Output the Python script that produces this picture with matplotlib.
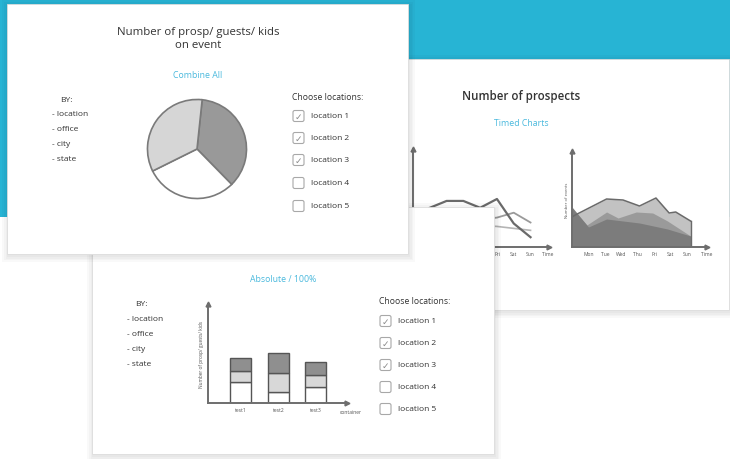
import matplotlib
matplotlib.use("Agg")
import matplotlib.pyplot as plt
from matplotlib.patches import Rectangle, FancyBboxPatch

plt.rcParams['font.family'] = ['Open Sans', 'DejaVu Sans']

pie_values = [36, 30, 34]            # dark, white, light slices
by_items = ['location', 'office', 'city', 'state']
locations = ['location 1', 'location 2', 'location 3', 'location 4', 'location 5']
checked = [True, True, True, False, False]

days = ['Mon', 'Tue', 'Wed', 'Thu', 'Fri', 'Sat', 'Sun']
day_pos = [1, 2, 3, 4, 5, 6, 7]
line_top = [40, 47, 47, 40, 49, 24, 10]
line_mid = [32, 36, 30, 28, 30, 35, 25]
line_low = [22, 20, 24, 22, 21, 19, 17]

area_light_x = [0, 0.2, 2.1, 3.1, 4.1, 5.1, 5.9, 6.3, 7.2]
area_light_y = [30, 32, 48, 47, 41, 49, 34, 35, 26]
area_mid_x = [0, 0.9, 2.1, 2.8, 3.9, 4.9, 5.8, 7.2]
area_mid_y = [38, 22, 35, 29, 35, 34, 26, 11]
area_dark_x = [0, 1.0, 2.1, 4.1, 5.8, 7.2]
area_dark_y = [40, 20, 28, 24, 18, 11]

bar_tests = ['test1', 'test2', 'test3']
bar_white = [21, 11, 16]
bar_light = [11, 19, 12]
bar_dark = [13, 20, 13]

W, H = 730, 460
CYAN = '#27b4d4'
CYAN_TXT = '#4ab9dd'
TXT = '#333333'
AX = '#6e6e6e'

fig = plt.figure(figsize=(7.3, 4.6), dpi=100)

def px_axes(x, y, w, h, z):
    return fig.add_axes([x / W, 1 - (y + h) / H, w / W, h / H], zorder=z)

def panel(x, y, w, h, z):
    ax = px_axes(x, y, w, h, z)
    ax.set_xlim(x, x + w)
    ax.set_ylim(y + h, y)
    ax.axis('off')
    for d in [6, 4, 2.5, 1.2]:
        ax.add_patch(Rectangle((x - d + 1, y - d + 2), w + 2 * d, h + 2 * d,
                               fc='black', alpha=0.025, lw=0, clip_on=False))
    ax.add_patch(Rectangle((x, y), w, h, fc='white', ec='#dcdcdc', lw=0.6, clip_on=False))
    return ax

def checklist(ax, x, y_title, y_rows):
    ax.text(x, y_title, 'Choose locations:', fontsize=6.2, color=TXT, va='center')
    for name, on, yc in zip(locations, checked, y_rows):
        ax.add_patch(FancyBboxPatch((x + 1, yc - 5.5), 11, 11,
                                    boxstyle='round,pad=0,rounding_size=1.8',
                                    fc='white', ec='#a8a8a8', lw=0.8))
        if on:
            ax.text(x + 6.5, yc + 0.5, '\u2713', fontsize=6.5, color='#8a8a8a',
                    ha='center', va='center', family='DejaVu Sans')
        ax.text(x + 19, yc, name, fontsize=6, color=TXT, va='center')

def by_list(ax, x, y0):
    ax.text(x + 8, y0, 'BY:', fontsize=6, color=TXT, va='center')
    for i, item in enumerate(by_items):
        ax.text(x, y0 + 15 * (i + 1), '- ' + item, fontsize=6, color=TXT, va='center')

def arrow_axes(ax):
    for s in ['top', 'right']:
        ax.spines[s].set_visible(False)
    for s in ['left', 'bottom']:
        ax.spines[s].set_color(AX)
        ax.spines[s].set_linewidth(1.4)
    ax.set_facecolor('none')
    ax.plot(0, 1, marker='^', ms=3.5, color=AX, transform=ax.transAxes, clip_on=False)
    ax.plot(1, 0, marker='>', ms=3.5, color=AX, transform=ax.transAxes, clip_on=False)
    ax.tick_params(length=0, labelsize=3.6, labelcolor='#555', pad=3)
    ax.set_yticks([])

# ---- background ----
bg = fig.add_axes([0, 0, 1, 1], zorder=0)
bg.set_xlim(0, W)
bg.set_ylim(H, 0)
bg.axis('off')
bg.add_patch(Rectangle((0, 0), W, H, fc='white', lw=0))
bg.add_patch(Rectangle((0, 0), W, 218, fc=CYAN, lw=0))

# ---- panel 2: number of prospects ----
p2 = panel(200, 60, 529, 251, 1)
p2.text(521, 97, 'Number of prospects', fontsize=8.3, fontweight='semibold',
        color=TXT, ha='center', va='center')
p2.text(521, 124, 'Timed Charts', fontsize=6.3, color=CYAN_TXT, ha='center', va='center')

lc = px_axes(413, 150, 136, 98, 1.5)
arrow_axes(lc)
lc.plot(day_pos, line_low, color='#b5b5b5', lw=1.2)
lc.plot(day_pos, line_mid, color='#9a9a9a', lw=1.3)
lc.plot(day_pos, line_top, color='#6a6a6a', lw=1.6)
lc.set_xlim(0, 8.1)
lc.set_ylim(0, 100)
lc.set_xticks(day_pos + [8])
lc.set_xticklabels(days + ['Time'])

ac = px_axes(572, 152, 135, 96, 1.5)
arrow_axes(ac)
ac.fill_between(area_light_x, area_light_y, color='#c2c2c2', lw=0)
ac.plot(area_light_x, area_light_y, color='#6a6a6a', lw=1.1)
ac.fill_between(area_mid_x, area_mid_y, color='#9a9a9a', lw=0)
ac.fill_between(area_dark_x, area_dark_y, color='#7c7c7c', lw=0)
ac.plot([area_light_x[-1], area_light_x[-1]], [0, area_light_y[-1]], color='#6a6a6a', lw=1.0)
ac.set_xlim(0, 8.1)
ac.set_ylim(0, 96)
ac.set_xticks(day_pos + [8.2])
ac.set_xticklabels(days + ['Time'])
ac.set_ylabel('Number of events', fontsize=3, color='#555', labelpad=2)

# ---- panel 3: absolute / 100% ----
p3 = panel(92, 208, 402, 247, 2)
p3.text(283, 280, 'Absolute / 100%', fontsize=6.3, color=CYAN_TXT, ha='center', va='center')
by_list(p3, 127, 305)
checklist(p3, 379, 302, [322, 344, 366, 388, 410])

bc = px_axes(208, 305, 139, 99, 2.5)
arrow_axes(bc)
pos = [0, 1, 2]
bot2 = [a + b for a, b in zip(bar_white, bar_light)]
bc.bar(pos, bar_white, width=0.56, color='white', edgecolor='#555', lw=1.0)
bc.bar(pos, bar_light, width=0.56, bottom=bar_white, color='#d8d8d8', edgecolor='#555', lw=1.0)
bc.bar(pos, bar_dark, width=0.56, bottom=bot2, color='#8f8f8f', edgecolor='#555', lw=1.0)
bc.set_xlim(-0.88, 2.83)
bc.set_ylim(0, 99)
bc.set_xticks(pos)
bc.set_xticklabels(bar_tests)
bc.text(1.03, -0.09, 'container', fontsize=3.6, color='#555', transform=bc.transAxes,
        ha='center', va='center')
bc.set_ylabel('Number of prosp/ guests/ kids', fontsize=3.4, color='#555', labelpad=3)

# ---- panel 1: pie ----
p1 = panel(7, 5, 401, 250, 3)
p1.text(198, 39, 'Number of prosp/ guests/ kids\non event', fontsize=8.2, color=TXT,
        ha='center', va='center', linespacing=1.15)
p1.text(198, 75, 'Combine All', fontsize=6.3, color=CYAN_TXT, ha='center', va='center')
by_list(p1, 52, 100)
checklist(p1, 292, 97, [117, 139, 161, 184, 207])

pc = px_axes(146, 99, 102, 102, 3.5)
pc.pie(pie_values, colors=['#999999', 'white', '#d6d6d6'], startangle=84, counterclock=False,
       wedgeprops=dict(edgecolor='#7a7a7a', linewidth=1.2))
pc.set_xlim(-1.03, 1.03)
pc.set_ylim(-1.03, 1.03)
pc.set_aspect('equal')

fig.savefig('out.png', dpi=100)
